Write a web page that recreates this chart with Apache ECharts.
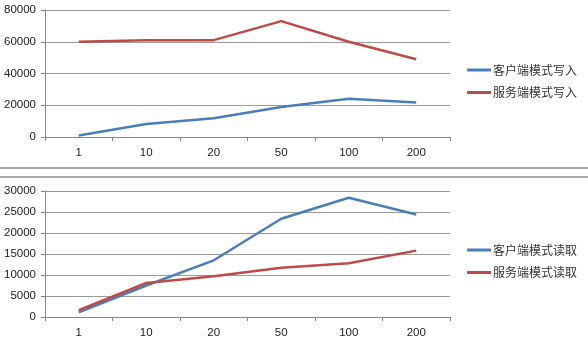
<!DOCTYPE html>
<html><head><meta charset="utf-8">
<script src="https://cdn.jsdelivr.net/npm/echarts@6/dist/echarts.min.js"></script>
<style>html,body{margin:0;padding:0;background:#fff}#c{width:588px;height:339px}</style>
</head><body><div id="c"></div>
<script>
const categories = ['1','10','20','50','100','200'];
const clientWrite = [1000, 8200, 11800, 18900, 24100, 21800];
const serverWrite = [60000, 61000, 61000, 73000, 60000, 49000];
const clientRead = [1100, 7500, 13500, 23400, 28400, 24400];
const serverRead = [1600, 8100, 9700, 11700, 12800, 15800];
const names = ['客户端模式写入','服务端模式写入','客户端模式读取','服务端模式读取'];

const BLUE = '#4a7ebb', RED = '#be4b48';
const font = '"Noto Sans CJK SC", "DejaVu Sans", sans-serif';
const chart = echarts.init(document.getElementById('c'));
function xAxis(i){return {type:'category',gridIndex:i,data:categories,boundaryGap:true,
  axisLine:{lineStyle:{color:'#868686',width:1}},
  axisTick:{show:true,length:4,lineStyle:{color:'#868686'}},
  axisLabel:{color:'#222',fontSize:11.5,fontFamily:'Arial, "Liberation Sans", sans-serif',margin:10}};}
function yAxis(i,max,interval){return {type:'value',gridIndex:i,min:0,max:max,interval:interval,
  axisLine:{show:true,lineStyle:{color:'#868686'}},
  axisTick:{show:true,length:4,lineStyle:{color:'#868686'}},
  splitLine:{lineStyle:{color:'#9a9a9a',width:1}},
  axisLabel:{color:'#222',fontSize:11.5,fontFamily:'Arial, "Liberation Sans", sans-serif',margin:9,
    formatter:v=>String(v)}};}
function line(name,data,color,i){return {name:name,type:'line',xAxisIndex:i,yAxisIndex:i,data:data,
  symbol:'none',smooth:false,lineStyle:{color:color,width:2.5},itemStyle:{color:color}};}
chart.setOption({
  animation:false,
  grid:[{left:45,right:138,top:10,bottom:202},{left:45,right:138,top:191,bottom:22}],
  xAxis:[xAxis(0),xAxis(1)],
  yAxis:[yAxis(0,80000,20000),yAxis(1,30000,5000)],
  legend:[
    {data:[names[0],names[1]],orient:'vertical',left:462,top:59,itemWidth:24,itemHeight:3,itemGap:10.5,icon:'rect',
     textStyle:{fontSize:12,color:'#333',fontFamily:font,padding:[0,0,0,-3]}},
    {data:[names[2],names[3]],orient:'vertical',left:462,top:239,itemWidth:24,itemHeight:3,itemGap:10.5,icon:'rect',
     textStyle:{fontSize:12,color:'#333',fontFamily:font,padding:[0,0,0,-3]}}
  ],
  series:[line(names[0],clientWrite,BLUE,0),line(names[1],serverWrite,RED,0),
          line(names[2],clientRead,BLUE,1),line(names[3],serverRead,RED,1)],
  graphic:[
    {type:'line',shape:{x1:0,y1:168,x2:588,y2:168},style:{stroke:'#8c8c8c',lineWidth:1.5}},
    {type:'line',shape:{x1:0,y1:177,x2:588,y2:177},style:{stroke:'#8c8c8c',lineWidth:1.5}}
  ]
});
</script></body></html>
